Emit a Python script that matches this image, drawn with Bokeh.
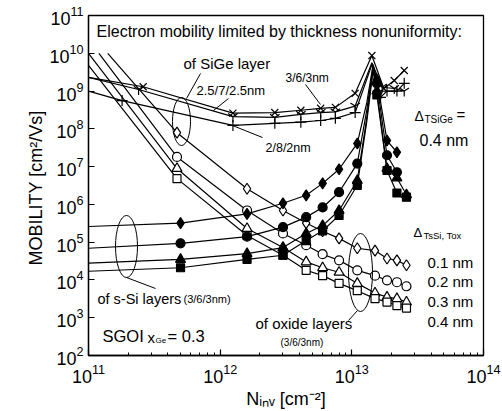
import math
from bokeh.plotting import figure
from bokeh.models import Label, FixedTicker, Title
from bokeh.embed import file_html
from bokeh.resources import INLINE

# ---------------- data ----------------
# SiGe-layer nonuniformity (3/6/3, 2.5/7/2.5, 2/8/2 nm)
sige_336_N = [1e11, 2.6e11, 1.25e12, 2.6e12, 4.1e12, 5.8e12, 7.5e12, 1.06e13, 1.42e13, 1.75e13, 2.1e13, 2.5e13]
sige_336_mu = [2.3e9, 1.3e9, 2.6e8, 2.7e8, 3.1e8, 3.5e8, 3.7e8, 8.7e8, 8.7e9, 1.17e9, 1.9e9, 3.5e9]
sige_257_N = [1e11, 2.4e11, 1.25e12, 2.6e12, 4.1e12, 5.8e12, 7.5e12, 1.06e13, 1.42e13, 1.7e13, 2.1e13, 2.5e13]
sige_257_mu = [2.3e9, 1.1e9, 2.1e8, 2.0e8, 2.4e8, 2.7e8, 2.8e8, 4.0e8, 5.6e9, 1.26e9, 1.17e9, 1.0e9]
sige_282_N = [1e11, 1.8e11, 1.25e12, 2.6e12, 4.1e12, 5.8e12, 7.5e12, 1.06e13, 1.42e13, 1.65e13, 1.85e13, 2.2e13, 2.5e13]
sige_282_mu = [1.0e9, 5.6e8, 1.23e8, 1.4e8, 1.5e8, 1.66e8, 1.9e8, 2.7e8, 5.0e9, 6.8e8, 1.0e9, 1.0e9, 1.6e9]

# s-Si layer nonuniformity (filled symbols), delta = 0.1 .. 0.4 nm
ssi_01_N = [1e11, 5e11, 1.6e12, 3e12, 4.5e12, 6e12, 8e12, 1.1e13, 1.3e13, 1.45e13, 1.55e13, 1.85e13, 2.2e13]
ssi_01_mu = [2.6e5, 3.2e5, 5.6e5, 1.07e6, 1.74e6, 3.6e6, 8.5e6, 4.1e7, 5.0e8, 5.0e9, 2.0e9, 4.9e7, 2.4e7]
ssi_02_N = [1e11, 5e11, 1.6e12, 3e12, 4.5e12, 6e12, 8e12, 1.1e13, 1.3e13, 1.45e13, 1.55e13, 1.85e13, 2.2e13]
ssi_02_mu = [6.9e4, 9.3e4, 1.4e5, 2.5e5, 4.6e5, 8.3e5, 2.1e6, 1.2e7, 3.2e8, 4.5e9, 1.6e9, 2.0e7, 7.1e6]
ssi_03_N = [1e11, 5e11, 1.6e12, 3e12, 4.5e12, 6e12, 8e12, 1.1e13, 1.3e13, 1.45e13, 1.55e13, 1.85e13, 2.2e13, 2.6e13]
ssi_03_mu = [2.8e4, 3.5e4, 5.0e4, 7.2e4, 1.7e5, 2.75e5, 6.9e5, 4.3e6, 2.0e8, 4.0e9, 1.0e9, 8.9e6, 5.0e6, 1.8e6]
ssi_04_N = [1e11, 5e11, 1.6e12, 3e12, 4.5e12, 6e12, 8e12, 1.1e13, 1.3e13, 1.45e13, 1.55e13, 1.85e13, 2.2e13, 2.6e13]
ssi_04_mu = [1.7e4, 2.1e4, 3.5e4, 4.5e4, 1.1e5, 2.0e5, 5.1e5, 3.2e6, 1.6e8, 3.5e9, 7.9e8, 7.9e6, 2.0e6, 1.55e6]

# oxide layer nonuniformity (open symbols), delta = 0.1 .. 0.4 nm
ox_01_N = [1.4e11, 4.7e11, 1.6e12, 3e12, 4.5e12, 6e12, 8e12, 1.1e13, 1.5e13, 1.85e13, 2.2e13, 2.6e13]
ox_01_mu = [1.0e10, 7.9e7, 2.6e6, 6.9e5, 3.2e5, 1.95e5, 1.26e5, 6.9e4, 6.0e4, 3.7e4, 3.3e4, 2.45e4]
ox_02_N = [1.2e11, 4.7e11, 1.6e12, 3e12, 4.5e12, 6e12, 8e12, 1.1e13, 1.5e13, 1.85e13, 2.2e13, 2.6e13]
ox_02_mu = [1.0e10, 1.8e7, 6.9e5, 1.7e5, 8.3e4, 4.8e4, 3.3e4, 1.8e4, 1.3e4, 9.8e3, 8.7e3, 6.8e3]
ox_03_N = [1e11, 4.7e11, 1.6e12, 3e12, 4.5e12, 6e12, 8e12, 1.1e13, 1.5e13, 1.85e13, 2.2e13, 2.6e13]
ox_03_mu = [1.0e10, 8.9e6, 2.3e5, 7.2e4, 3.0e4, 2.1e4, 1.6e4, 8.1e3, 4.5e3, 3.5e3, 3.2e3, 2.6e3]
ox_04_N = [1e11, 4.7e11, 1.6e12, 3e12, 4.5e12, 6e12, 8e12, 1.1e13, 1.5e13, 1.85e13, 2.2e13, 2.6e13]
ox_04_mu = [4.8e9, 4.8e6, 1.5e5, 4.5e4, 1.8e4, 1.3e4, 8.1e3, 5.2e3, 3.2e3, 2.6e3, 2.1e3, 1.8e3]

x_ticks = [1e11, 1e12, 1e13, 1e14]
y_ticks = [1e2, 1e3, 1e4, 1e5, 1e6, 1e7, 1e8, 1e9, 1e10, 1e11]

# ---------------- figure ----------------
W, H = 502, 411
L, R, T, B = 88, 483, 15, 355
FONT = "Liberation Sans"

p = figure(width=W, height=H, x_axis_type="log", y_axis_type="log",
           x_range=(1e11, 1e14), y_range=(1e2, 1e11),
           output_backend="svg", toolbar_location=None,
           min_border_left=L, min_border_right=W - R,
           min_border_top=T, min_border_bottom=H - B)
p.grid.visible = False
p.outline_line_color = "black"
p.outline_line_width = 1.3
p.background_fill_color = "white"
p.border_fill_color = "white"

minor = [k * 10 ** e for e in (11, 12, 13) for k in range(2, 10)]
p.xaxis.ticker = FixedTicker(ticks=x_ticks, minor_ticks=minor)
p.yaxis.ticker = FixedTicker(ticks=y_ticks, minor_ticks=[])
for ax in (p.xaxis[0], p.yaxis[0]):
    ax.axis_line_width = 1.3
    ax.major_tick_in = 6
    ax.major_tick_out = 0
    ax.minor_tick_in = 3
    ax.minor_tick_out = 0
    ax.major_tick_line_width = 1.2
    ax.major_label_text_font = FONT
    ax.major_label_text_font_size = "18px"
    ax.major_label_text_color = "black"
    ax.axis_label_text_font = FONT
    ax.axis_label_text_font_style = "normal"
    ax.axis_label_text_color = "black"
p.xaxis.major_label_standoff = 8
p.yaxis.major_label_standoff = 5

p.xaxis.axis_label = "N\u1d62\u2099\u1d65 [cm\u207b\u00b2]"
p.xaxis.axis_label_text_font_size = "18px"
p.xaxis.axis_label_standoff = 3

# y title as a side-panel title so that it can sit a little below the centre
p.add_layout(Title(text="MOBILITY  [cm\u00b2/Vs]", align="center", offset=-20,
                   standoff=2, text_font=FONT, text_font_size="18px",
                   text_font_style="normal", text_color="black"), "left")


def P(px, py):
    """pixel position in the window -> data coordinates (annotations only)"""
    return (10 ** (11 + 3 * (px - L) / (R - L)), 10 ** (11 - 9 * (py - T) / (B - T)))


def draw(N, mu, marker, size, fill, skip=(0,)):
    p.line(N, mu, line_color="black", line_width=1.2)
    mN = [n for i, n in enumerate(N) if i not in skip]
    mM = [m for i, m in enumerate(mu) if i not in skip]
    p.scatter(mN, mM, marker=marker, size=size, fill_color=fill,
              line_color="black", line_width=1.2)


draw(ox_01_N, ox_01_mu, "diamond", 11, "white")
draw(ox_02_N, ox_02_mu, "circle", 9, "white")
draw(ox_03_N, ox_03_mu, "triangle", 10, "white")
draw(ox_04_N, ox_04_mu, "square", 8, "white")

draw(ssi_04_N, ssi_04_mu, "square", 8, "black", skip=(0, 8, 9))
draw(ssi_03_N, ssi_03_mu, "triangle", 10, "black", skip=(0, 8, 9))
draw(ssi_02_N, ssi_02_mu, "circle", 9, "black", skip=(0, 8, 9))
draw(ssi_01_N, ssi_01_mu, "diamond", 11, "black", skip=(0, 8, 9))

draw(sige_282_N, sige_282_mu, "cross", 11, None, skip=(0, 8))
draw(sige_257_N, sige_257_mu, "y", 11, None, skip=(0, 8))
draw(sige_336_N, sige_336_mu, "x", 10, None, skip=(0,))


# ---------------- annotations ----------------
def txt(s, px, py, size, align="left", angle=0.0):
    x, y = P(px, py)
    p.add_layout(Label(x=x, y=y, text=s, text_font=FONT, text_font_size=size,
                       text_color="black", text_align=align,
                       text_baseline="middle", angle=angle))


def seg(x0, y0, x1, y1):
    a, b = P(x0, y0)
    c, d = P(x1, y1)
    p.line([a, c], [b, d], line_color="black", line_width=1)


def ell(cx, cy, w, h):
    x, y = P(cx, cy)
    p.ellipse(x=[x], y=[y], width=w, height=h, width_units="screen",
              height_units="screen", fill_color=None, line_color="black",
              line_width=1)


txt("Electron mobility limited by thickness nonuniformity:", 96, 31, "16px")
txt("of SiGe layer", 183, 63, "15px")
txt("2.5/7/2.5nm", 196, 90, "13px")
txt("3/6/3nm", 285, 77, "12px")
txt("2/8/2nm", 265, 147, "12.5px")
txt("Δ", 414, 115, "14px")
txt("TSiGe", 424, 119, "10px")
txt("=", 456, 114, "15px")
txt("0.4 nm", 419, 140, "16px")
txt("Δ", 413, 232, "13px")
txt("TsSi, Tox", 423, 235, "9.5px")
txt("0.1 nm", 427, 262, "15px")
txt("0.2 nm", 427, 281, "15px")
txt("0.3 nm", 427, 301, "15px")
txt("0.4 nm", 427, 321, "15px")
txt("of oxide layers", 255, 323, "15px")
txt("(3/6/3nm)", 280, 342, "10px")
txt("of s-Si layers", 97, 298, "14.5px")
txt("(3/6/3nm)", 183, 298, "11px")
txt("SGOI", 102, 335, "16.5px")
txt("x", 147, 337, "15px")
txt("Ge", 155, 340, "8px")
txt("= 0.3", 167, 335, "16.5px")

ell(181, 121, 18, 48)
ell(126, 246, 22, 62)
ell(360, 272, 24, 78)
seg(186, 98, 200, 73)
seg(213, 110, 228, 98)
seg(305, 84, 320, 104)
seg(232, 125, 262, 137)
seg(126, 277, 155, 288)
seg(357, 310, 348, 320)

open("out.html", "w").write(file_html(p, INLINE))
